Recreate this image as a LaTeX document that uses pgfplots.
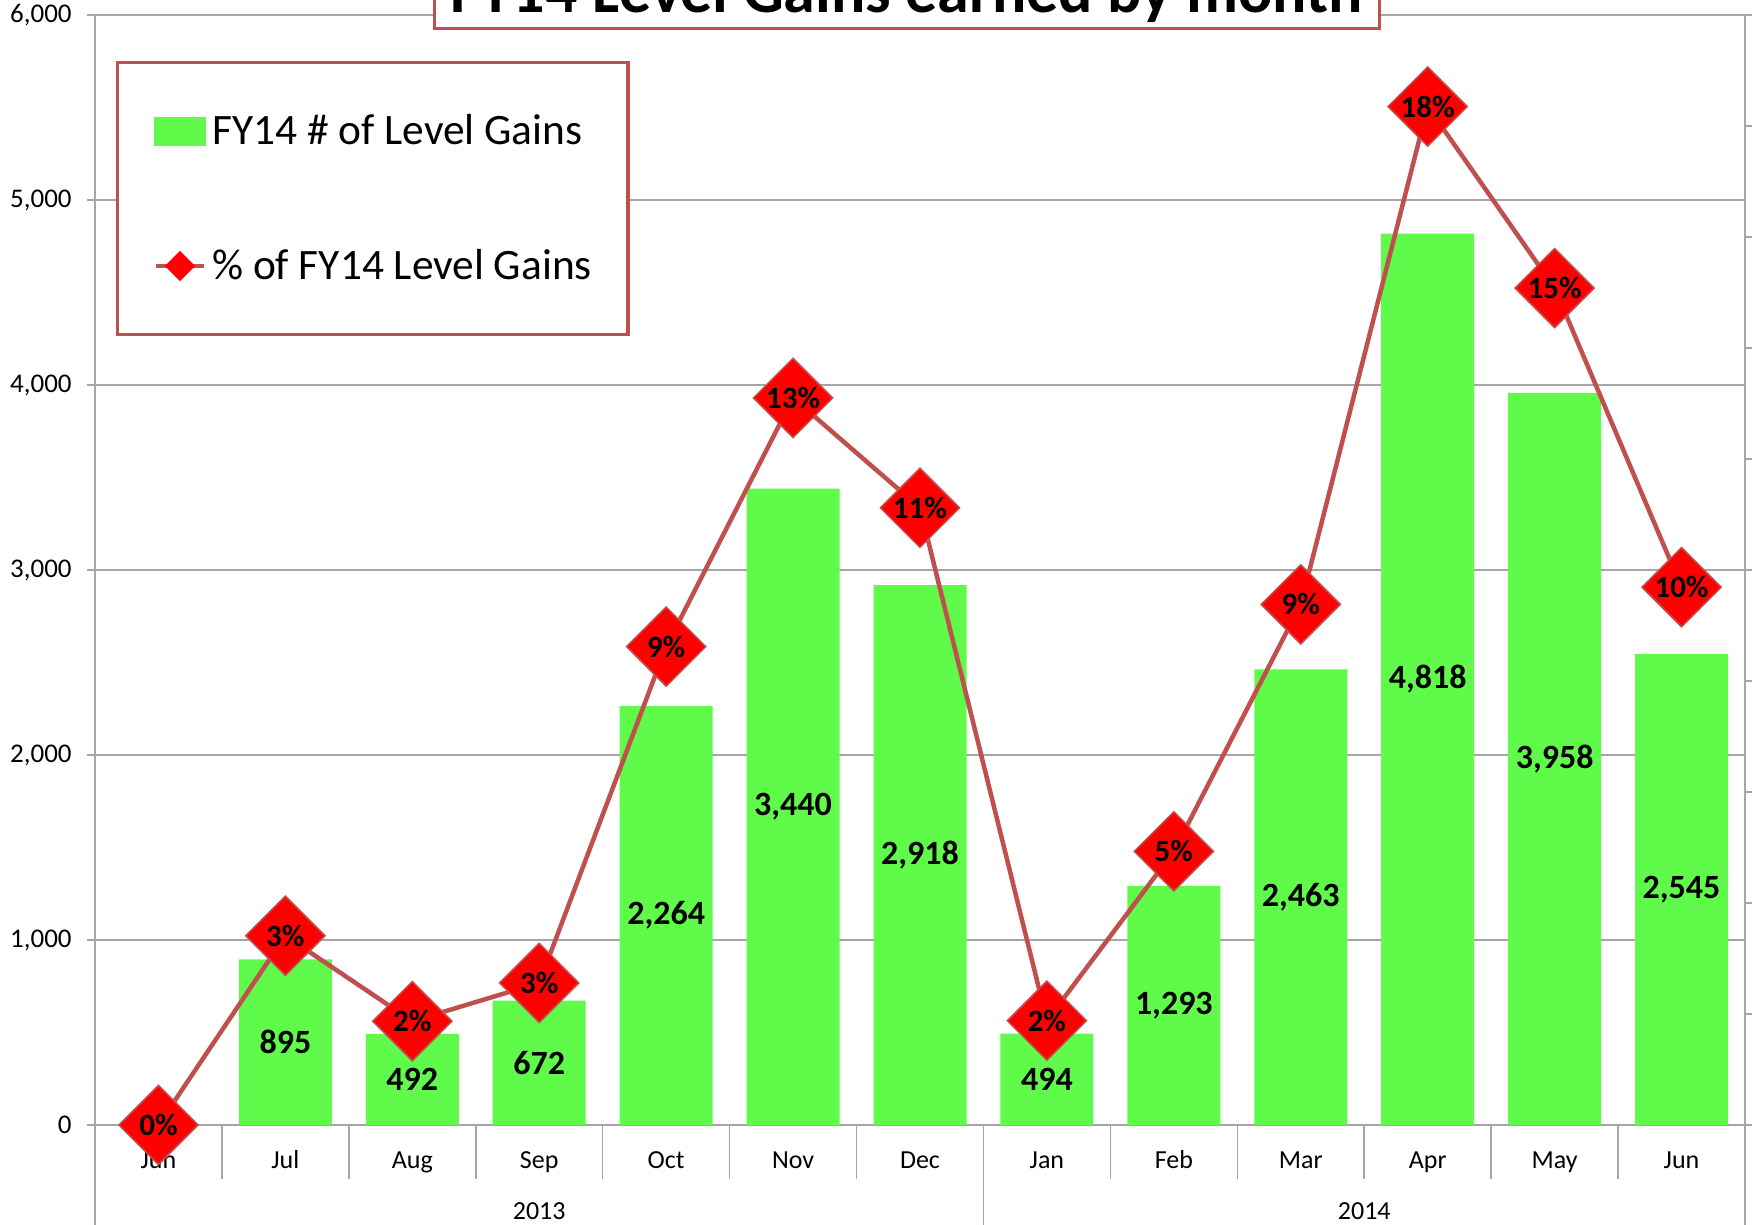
\documentclass[border=0pt]{standalone}
\usepackage{fontspec}
\setmainfont{Carlito}
\usepackage{pgfplots}
\pgfplotsset{compat=1.18}
\definecolor{lred}{RGB}{192,80,77}
\definecolor{bargreen}{RGB}{96,250,74}
\definecolor{gridgray}{RGB}{166,166,166}
\definecolor{mred}{RGB}{255,0,0}
\begin{document}
\begin{tikzpicture}
\begin{axis}[
  at={(47.5pt,50pt)}, anchor=south west, scale only axis,
  width=825pt, height=555pt,
  xmin=-0.5, xmax=12.5, ymin=0, ymax=6000,
  axis x line*=bottom, axis y line*=left,
  axis line style={draw=gridgray, line width=0.75pt},
  ytick={0,1000,...,6000}, ymajorgrids, grid style={gridgray, line width=0.75pt},
  xtick={0,...,12},
  xticklabels={Jun,Jul,Aug,Sep,Oct,Nov,Dec,Jan,Feb,Mar,Apr,May,Jun},
  minor xtick={0.5,1.5,2.5,3.5,4.5,5.5,7.5,8.5,9.5,10.5,11.5},
  tick align=outside, major tick length=0pt, minor tick length=27pt,
  minor tick style={draw=gridgray, line width=0.75pt},
  major tick style={draw=gridgray, line width=0.75pt},
  extra y ticks={0,1000,2000,3000,4000,5000,6000}, extra y tick labels={},
  extra y tick style={major tick length=4pt, tick align=outside, grid=none,
    major tick style={draw=gridgray, line width=0.75pt}},
  scaled y ticks=false,
  /pgf/number format/1000 sep={,},
  /pgf/number format/assume math mode=true,
  yticklabel style={font=\fontsize{13.5}{16}\selectfont, anchor=east, inner sep=0pt, xshift=-11.5pt},
  xticklabel style={font=\fontsize{13}{16}\selectfont, anchor=base, inner sep=0pt, yshift=-22pt},
  clip=false,
]
\addplot[ybar, bar width=46.5pt, fill=bargreen, draw=none,
  nodes near coords, point meta=explicit symbolic,
  visualization depends on={y \as \rawy},
  every node near coord/.append style={anchor=center, text=black,
    font=\fontsize{17}{20}\selectfont\bfseries, yshift={-0.04625pt*\rawy}}]
table[meta=lab] {
x y lab
0 0 0
1 895 895
2 492 492
3 672 672
4 2264 2,264
5 3440 3,440
6 2918 2,918
7 494 494
8 1293 1,293
9 2463 2,463
10 4818 4,818
11 3958 3,958
12 2545 2,545
};
\draw[gridgray, line width=0.75pt] (axis cs:-0.5,0) -- ([yshift=-60pt]axis cs:-0.5,0);
\draw[gridgray, line width=0.75pt] (axis cs:6.5,0) -- ([yshift=-60pt]axis cs:6.5,0);
\draw[gridgray, line width=0.75pt] (axis cs:12.5,0) -- ([yshift=-60pt]axis cs:12.5,0);
\node[anchor=base, yshift=-47.5pt, font=\fontsize{13}{16}\selectfont] at (axis cs:3,0) {2013};
\node[anchor=base, yshift=-47.5pt, font=\fontsize{13}{16}\selectfont] at (axis cs:9.5,0) {2014};
\end{axis}
\begin{axis}[
  at={(47.5pt,50pt)}, anchor=south west, scale only axis,
  width=825pt, height=555pt,
  xmin=-0.5, xmax=12.5, ymin=0, ymax=20,
  hide x axis, axis y line*=right,
  axis line style={draw=gridgray, line width=0.75pt},
  ytick={0,2,...,20}, yticklabels={},
  tick align=outside, major tick length=4pt,
  major tick style={draw=gridgray, line width=0.75pt},
  clip=false,
  legend cell align=left,
  legend style={at={(0.0127,0.9586)}, anchor=north west, draw=lred, line width=1.75pt,
    fill=white, inner xsep=18pt, inner ysep=26pt, row sep=50.8pt, column sep=3pt,
    font=\fontsize{21.7}{26}\selectfont, nodes={inner sep=0pt}},
]
\addlegendimage{legend image code/.code={\fill[bargreen] (0pt,-6.25pt) rectangle (24pt,6.25pt);}}
\addlegendentry{FY14 \# of Level Gains}
\addplot[lred, line width=2.25pt, mark=square*, mark size=14pt,
  mark options={rotate=45, fill=mred, draw=lred, line width=0.75pt},
  nodes near coords, point meta=explicit symbolic,
  every node near coord/.append style={anchor=center, text=black, inner sep=0pt,
    font=\fontsize{15.5}{18}\selectfont\bfseries},
  legend image code/.code={\draw[lred, line width=2.25pt] (0pt,0pt) -- (24pt,0pt);
    \fill[mred] (12pt,-6pt) -- (18pt,0pt) -- (12pt,6pt) -- (6pt,0pt) -- cycle;}]
table[meta=lab] {
x y lab
0 0 0\%
1 3.41 3\%
2 1.87 2\%
3 2.56 3\%
4 8.62 9\%
5 13.10 13\%
6 11.12 11\%
7 1.88 2\%
8 4.93 5\%
9 9.38 9\%
10 18.35 18\%
11 15.08 15\%
12 9.69 10\%
};
\addlegendentry{\% of FY14 Level Gains}
\end{axis}
\fill[white] (217pt,598pt) rectangle (689.5pt,650pt);
\draw[lred, line width=1.5pt] (217pt,650pt) -- (217pt,598pt) -- (689.5pt,598pt) -- (689.5pt,650pt);
\node[anchor=base, font=\fontsize{32}{38}\selectfont\bfseries] at (453.25pt,606pt) {FY14 Level Gains earned by month};
\pgfresetboundingbox
\useasboundingbox (0,0) rectangle (876pt,612.5pt);
\end{tikzpicture}
\end{document}
